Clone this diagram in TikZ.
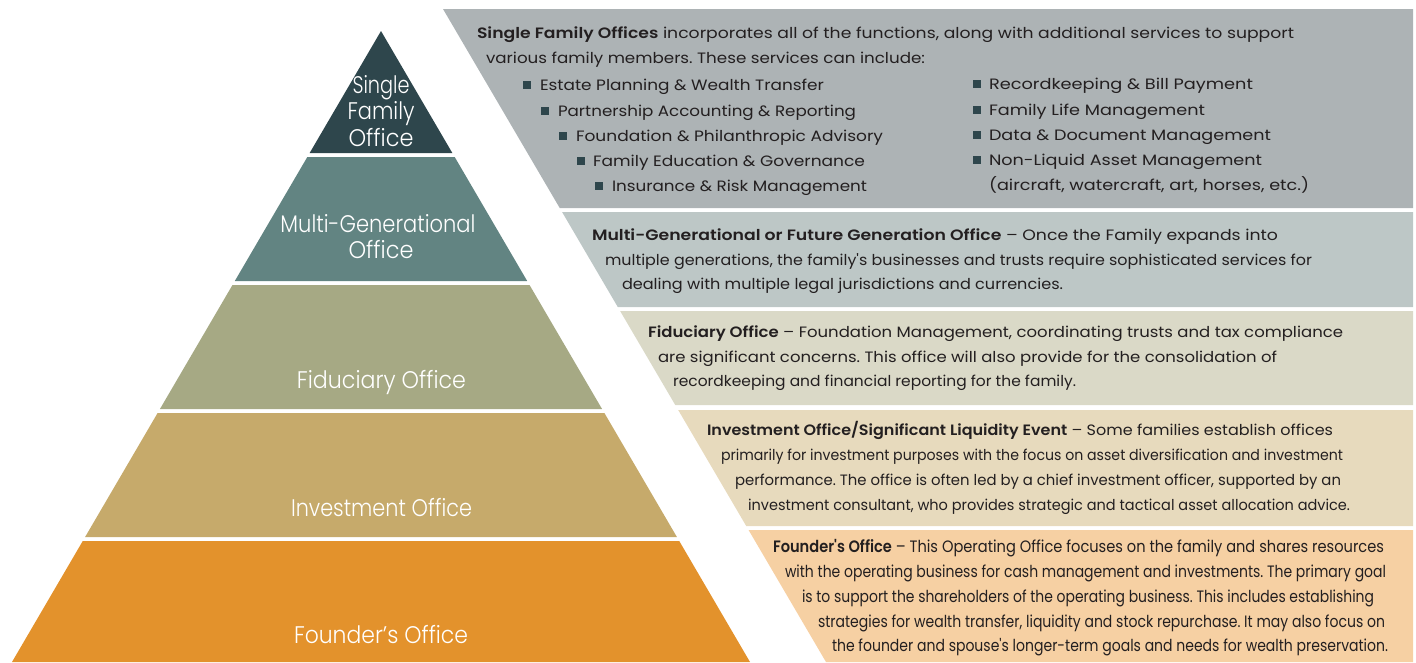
\documentclass[tikz,border=0pt]{standalone}
\usepackage{fontspec}
\usepackage{graphicx}
\IfFontExistsTF{Poppins SemiBold}{\setmainfont{Poppins}[Ligatures=TeXOff,BoldFont={Poppins SemiBold}]}{\setmainfont{Poppins}[Ligatures=TeXOff]}
\IfFontExistsTF{Poppins Light}{\newfontfamily\labelfont{Poppins Light}}{\newfontfamily\labelfont{Poppins}}
\frenchspacing
\definecolor{tierA}{HTML}{2E464C}
\definecolor{tierB}{HTML}{628482}
\definecolor{tierC}{HTML}{A6A984}
\definecolor{tierD}{HTML}{C6AA6B}
\definecolor{tierE}{HTML}{E3922C}
\definecolor{bandA}{HTML}{ADB3B5}
\definecolor{bandB}{HTML}{BDC7C6}
\definecolor{bandC}{HTML}{DAD9C7}
\definecolor{bandD}{HTML}{E7DABD}
\definecolor{bandE}{HTML}{F6D0A3}
\definecolor{textc}{HTML}{231F20}
\definecolor{bulc}{HTML}{2E464C}
\newcommand\fitw[2]{\resizebox{#1pt}{\height}{#2}}
\newcommand\tier[3]{\fill[#3] ({381-0.5848*(#1-31)},#1) -- ({381+0.5848*(#1-31)},#1) -- ({381+0.5848*(#2-31)},#2) -- ({381-0.5848*(#2-31)},#2) -- cycle;}
\newcommand\band[3]{\fill[#3] ({443+0.5865*(#1-9)},#1) -- (1413,#1) -- (1413,#2) -- ({443+0.5865*(#2-9)},#2) -- cycle;}
\newcommand\bitem[6]{\node[bul] (#1b) at (#2,{#4-1.5}) {}; \node[txt] (#1) at (#3,#4) {\fitw{#5}{#6}};}
\begin{document}
\begin{tikzpicture}[x=1pt,y=-1pt,
  txt/.style={anchor=base west, inner sep=0pt, outer sep=0pt, text=textc, font=\fontsize{15}{18}\selectfont},
  txtE/.style={txt, font=\fontsize{16.5}{19}\selectfont},
  lbl/.style={anchor=base, inner sep=0pt, outer sep=0pt, text=white, font=\labelfont\fontsize{24}{28}\selectfont},
  bul/.style={fill=bulc, minimum size=7.5pt, inner sep=0pt, outer sep=0pt, anchor=south west}]
\useasboundingbox (0,0) rectangle (1416,662);
% pyramid
\tier{31}{153}{tierA}
\tier{157}{281}{tierB}
\tier{285}{409}{tierC}
\tier{413}{537}{tierD}
\tier{541}{662}{tierE}
% bands
\band{9}{208}{bandA}
\band{212}{307}{bandB}
\band{311}{405}{bandC}
\band{410}{526}{bandD}
\band{530}{662}{bandE}
% pyramid labels
\node[lbl] (p1a) at (381,93) {\fitw{57}{Single}};
\node[lbl] (p1b) at (381,119) {\fitw{67}{Family}};
\node[lbl] (p1c) at (381,146) {\fitw{65}{Office}};
\node[lbl] (p2a) at (378,232) {\fitw{195}{Multi-Generational}};
\node[lbl] (p2b) at (381,258) {\fitw{65}{Office}};
\node[lbl] (p3) at (381.5,388) {\fitw{169}{Fiduciary Office}};
\node[lbl] (p4) at (381.5,516) {\fitw{181}{Investment Office}};
\node[lbl] (p5) at (381,643) {\fitw{174}{Founder’s Office}};
% band 1
\node[txt] (s1) at (477,38) {\fitw{817}{\textbf{Single Family Offices} incorporates all of the functions, along with additional services to support}};
\node[txt] (s2) at (486,63) {\fitw{439}{various family members. These services can include:}};
\bitem{sa}{523}{540}{90}{284}{Estate Planning \& Wealth Transfer}
\bitem{sb}{541}{558}{116}{298}{Partnership Accounting \& Reporting}
\bitem{sc}{559}{576}{141}{307}{Foundation \& Philanthropic Advisory}
\bitem{sd}{577}{593}{166}{272}{Family Education \& Governance}
\bitem{se}{595}{612}{191}{255}{Insurance \& Risk Management}
\bitem{sf}{973}{989}{89}{264}{Recordkeeping \& Bill Payment}
\bitem{sg}{973}{989}{115}{216}{Family Life Management}
\bitem{sh}{973}{989}{140}{282}{Data \& Document Management}
\bitem{si}{973}{989}{165}{273}{Non-Liquid Asset Management}
\node[txt] (sj) at (989,190) {\fitw{320}{(aircraft, watercraft, art, horses, etc.)}};
% band 2
\node[txt] (m1) at (592,240) {\fitw{686}{\textbf{Multi-Generational or Future Generation Office} – Once the Family expands into}};
\node[txt] (m2) at (605,265) {\fitw{707}{multiple generations, the family's businesses and trusts require sophisticated services for}};
\node[txt] (m3) at (622,289) {\fitw{441}{dealing with multiple legal jurisdictions and currencies.}};
% band 3
\node[txt] (f1) at (648,337) {\fitw{695}{\textbf{Fiduciary Office} – Foundation Management, coordinating trusts and tax compliance}};
\node[txt] (f2) at (658,362) {\fitw{619}{are significant concerns. This office will also provide for the consolidation of}};
\node[txt] (f3) at (673,386) {\fitw{403}{recordkeeping and financial reporting for the family.}};
% band 4
\node[txt] (i1) at (707,435) {\fitw{626}{\textbf{Investment Office/Significant Liquidity Event} – Some families establish offices}};
\node[txt] (i2) at (721,460) {\fitw{622}{primarily for investment purposes with the focus on asset diversification and investment}};
\node[txt] (i3) at (735,485) {\fitw{606}{performance. The office is often led by a chief investment officer, supported by an}};
\node[txt] (i4) at (748,510) {\fitw{602}{investment consultant, who provides strategic and tactical asset allocation advice.}};
% band 5
\node[txtE] (o1) at (773,552) {\fitw{611}{\textbf{Founder's Office} – This Operating Office focuses on the family and shares resources}};
\node[txtE] (o2) at (785,577) {\fitw{601}{with the operating business for cash management and investments. The primary goal}};
\node[txtE] (o3) at (802,602) {\fitw{572}{is to support the shareholders of the operating business. This includes establishing}};
\node[txtE] (o4) at (818,627) {\fitw{567}{strategies for wealth transfer, liquidity and stock repurchase. It may also focus on}};
\node[txtE] (o5) at (832,651) {\fitw{556}{the founder and spouse's longer-term goals and needs for wealth preservation.}};
\end{tikzpicture}
\end{document}
